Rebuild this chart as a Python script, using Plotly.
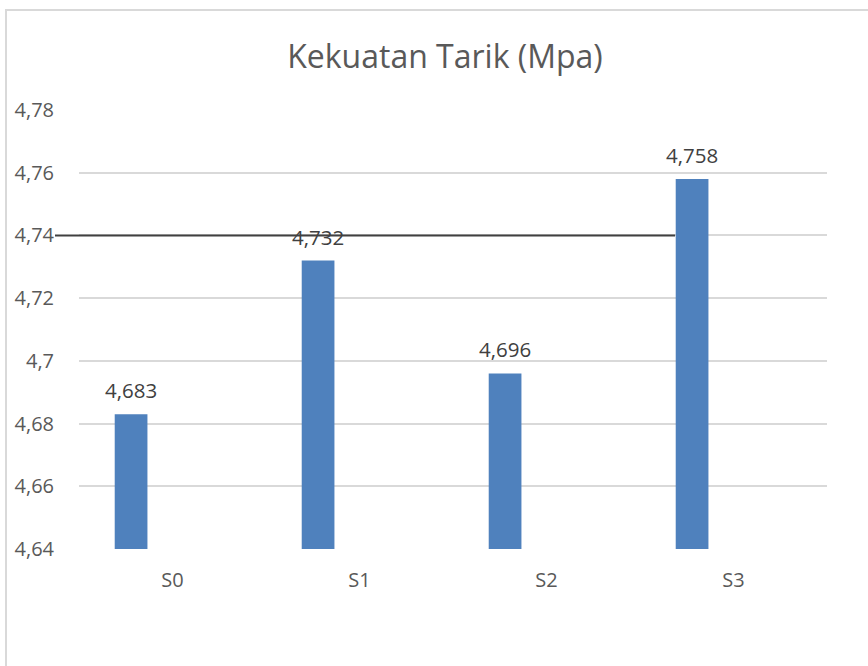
import plotly.graph_objects as go

categories = ["S0", "S1", "S2", "S3"]
values = [4.683, 4.732, 4.696, 4.758]
value_labels = ["4,683", "4,732", "4,696", "4,758"]
y_tickvals = [4.64, 4.66, 4.68, 4.70, 4.72, 4.74, 4.76, 4.78]
y_ticktext = ["4,64", "4,66", "4,68", "4,7", "4,72", "4,74", "4,76", "4,78"]
title_text = "Kekuatan Tarik (Mpa)"
ref_line_value = 4.74

W, H = 868, 666
L, R, T, B = 79, 41, 110, 117
PW = W - L - R
FONT = "Open Sans"
GRAY = "#595959"

fig = go.Figure()
fig.add_trace(go.Bar(
    x=categories, y=values,
    marker=dict(color="#4F81BD", line=dict(width=0)),
    width=0.175, offset=-0.309,
))

for c, v, t in zip(categories, values, value_labels):
    fig.add_annotation(x=c, y=v, text=t, showarrow=False, xshift=-41.5, yshift=24,
                       yanchor="middle", font=dict(family=FONT, size=20.5, color="#404040"))

# chart frame
fig.add_shape(type="rect", xref="paper", yref="paper",
              x0=(6 - L) / PW, x1=(900 - L) / PW,
              y0=-(700 - (H - B)) / (H - T - B), y1=1 + (T - 10) / (H - T - B),
              line=dict(color="#d9d9d9", width=2), layer="below")
# dark reference line
fig.add_shape(type="line", xref="paper", yref="y",
              x0=(55 - L) / PW, x1=(675 - L) / PW, y0=ref_line_value, y1=ref_line_value,
              line=dict(color="#404040", width=2), layer="above")

fig.update_layout(
    width=W, height=H,
    margin=dict(l=L, r=R, t=T, b=B, pad=0),
    paper_bgcolor="white", plot_bgcolor="white",
    showlegend=False,
    title=dict(text=title_text, x=445 / W, xref="container", xanchor="center",
               y=1 - 57 / H, yref="container", yanchor="middle",
               font=dict(family=FONT, size=32, color=GRAY)),
    xaxis=dict(type="category", showgrid=False, showline=False, zeroline=False,
               ticks="", tickfont=dict(family=FONT, size=20, color=GRAY),
               ticklabelstandoff=17),
    yaxis=dict(range=[4.64, 4.78], tickvals=y_tickvals, ticktext=y_ticktext,
               showgrid=True, gridcolor="#d9d9d9", gridwidth=1.5, zeroline=False,
               showline=False, ticks="", tickfont=dict(family=FONT, size=20, color=GRAY),
               ticklabelstandoff=24),
)

fig.write_html("out.html")
